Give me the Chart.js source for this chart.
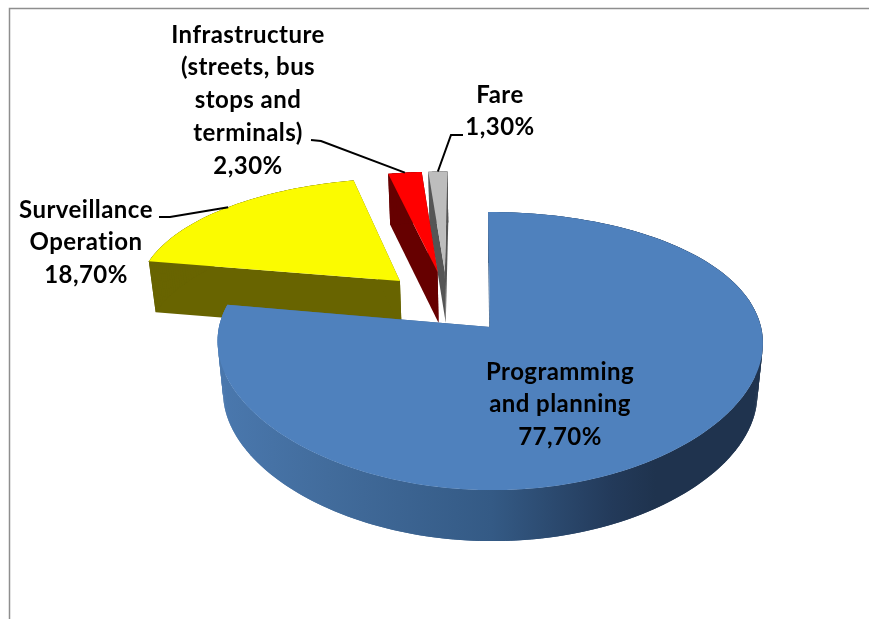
<!DOCTYPE html>
<html>
<head>
<meta charset="utf-8">
<title>Budget share</title>
<script src="https://cdn.jsdelivr.net/npm/chart.js@4"></script>
<style>
    html, body { margin: 0; padding: 0; background: #fff; overflow: hidden; }
    canvas { display: block; }
</style>
</head>
<body>
<canvas id="pieChart" width="869" height="619"></canvas>
<script>
const categories = ['Programming and planning', 'Surveillance Operation', 'Infrastructure (streets, bus stops and terminals)', 'Fare'];
const shares = [77.7, 18.7, 2.3, 1.3];
const labelLines = [
    ['Programming', 'and planning'],
    ['Surveillance', 'Operation'],
    ['Infrastructure', '(streets, bus', 'stops and', 'terminals)'],
    ['Fare']
];

const topColors = ['#4f81bd', '#fbfb00', '#ff0000', '#bdbdbd'];
const wallColors = [null, '#686400', '#660000', '#555555'];
const drawOrder = [1, 3, 2, 0];

// view of the tilted pie plane
const view = { x: 490, y: 327, rx: 271, ry: 134.9, shear: 2, tiltX: 0.11, tiltY: 0.173, depth: 51, shrink: 0.98 };

// label centre x, first line y, and where each leader leaves the label
const labelBoxes = [
    { x: 560, y: 372, leader: null },
    { x: 86, y: 210, leader: [[159, 217], [170, 217]] },
    { x: 248, y: 35, leader: [[311, 140], [321, 141]] },
    { x: 500, y: 95, leader: [[463, 135], [451, 135]] }
];
const lineHeight = 32.7;

function project(el, angle, radius, low) {
    const first = el.$context.chart.getDatasetMeta(0).data[0];
    const r = el.outerRadius;
    const firstMid = (first.startAngle + first.endAngle) / 2;
    const mid = (el.startAngle + el.endAngle) / 2;
    // slices are pulled out along their middle angle, first slice stays at the view origin
    const nx = radius * Math.cos(angle) + (el.options.offset * Math.cos(mid) - first.options.offset * Math.cos(firstMid)) / r;
    const ny = radius * Math.sin(angle) + (el.options.offset * Math.sin(mid) - first.options.offset * Math.sin(firstMid)) / r;
    let x = view.x + (view.rx * nx + view.shear * ny) / (1 - view.tiltX * ny);
    let y = view.y + view.ry * ny / (1 - view.tiltY * ny);
    if (low) {
        x = view.x + (x - view.x) * view.shrink;
        y += view.depth;
    }
    return [x, y];
}

function rimPoints(el, low) {
    const pts = [];
    const steps = Math.ceil((el.endAngle - el.startAngle) / 0.0175);
    for (let i = 0; i <= steps; i++) {
        pts.push(project(el, el.startAngle + (el.endAngle - el.startAngle) * i / steps, 1, low));
    }
    return pts;
}

function fillPoly(ctx, pts, color) {
    ctx.beginPath();
    pts.forEach((p, i) => i ? ctx.lineTo(p[0], p[1]) : ctx.moveTo(p[0], p[1]));
    ctx.closePath();
    ctx.fillStyle = color;
    ctx.fill();
}

function drawSlice(ctx, el, index) {
    let wall = wallColors[index];
    if (!wall) {
        wall = ctx.createLinearGradient(218, 0, 765, 0);
        wall.addColorStop(0, '#4a78ae');
        wall.addColorStop(0.2, '#426c9c');
        wall.addColorStop(0.5, '#345a85');
        wall.addColorStop(0.72, '#233a5a');
        wall.addColorStop(0.8, '#1f334e');
        wall.addColorStop(1, '#1f334e');
    }
    const upper = rimPoints(el, false);
    const lower = rimPoints(el, true);
    const apexUp = project(el, 0, 0, false);
    const apexLow = project(el, 0, 0, true);

    fillPoly(ctx, [apexUp, upper[0], lower[0], apexLow], wall);
    fillPoly(ctx, [apexUp, upper[upper.length - 1], lower[lower.length - 1], apexLow], wall);
    // neighbouring wall pieces overlap by one step so no seams show
    for (let i = 0; i < upper.length - 1; i++) {
        const j = Math.min(i + 2, upper.length - 1);
        fillPoly(ctx, [upper[i], upper[j], lower[j], lower[i]], wall);
    }
    fillPoly(ctx, [apexUp].concat(upper), topColors[index]);
}

const tiltedPie = {
    id: 'tiltedPie',
    beforeDraw(chart) {
        // chart frame, top and left edges
        const ctx = chart.ctx;
        ctx.save();
        ctx.strokeStyle = '#8e8e8e';
        ctx.lineWidth = 1.5;
        ctx.beginPath();
        ctx.moveTo(9.5, 619);
        ctx.lineTo(9.5, 8.5);
        ctx.lineTo(869, 8.5);
        ctx.stroke();
        ctx.restore();
    },
    beforeDatasetDraw(chart) {
        const ctx = chart.ctx;
        const arcs = chart.getDatasetMeta(0).data;
        ctx.save();
        drawOrder.forEach(i => drawSlice(ctx, arcs[i], i));
        ctx.restore();
        return false;
    },
    afterDatasetsDraw(chart) {
        const ctx = chart.ctx;
        const arcs = chart.getDatasetMeta(0).data;
        ctx.save();
        ctx.font = 'bold 24px Lato';
        ctx.letterSpacing = '0.45px';
        ctx.textAlign = 'center';
        ctx.textBaseline = 'middle';
        ctx.fillStyle = '#000';
        ctx.strokeStyle = '#000';
        ctx.lineWidth = 2;
        labelBoxes.forEach((box, i) => {
            const value = shares[i].toFixed(2).replace('.', ',') + '%';
            labelLines[i].concat(value).forEach((text, n) => {
                ctx.fillText(text, box.x, box.y + n * lineHeight);
            });
            if (box.leader) {
                const el = arcs[i];
                const end = project(el, (el.startAngle + el.endAngle) / 2, 1, false);
                ctx.beginPath();
                box.leader.concat([end]).forEach((p, n) => n ? ctx.lineTo(p[0], p[1]) : ctx.moveTo(p[0], p[1]));
                ctx.stroke();
            }
        });
        ctx.restore();
    }
};

new Chart(document.getElementById('pieChart').getContext('2d'), {
    type: 'pie',
    data: {
        labels: categories,
        datasets: [{
            data: shares,
            backgroundColor: topColors,
            borderWidth: 0,
            offset: 68.8
        }]
    },
    options: {
        responsive: false,
        animation: false,
        plugins: {
            legend: { display: false },
            tooltip: { enabled: false }
        }
    },
    plugins: [tiltedPie]
});
</script>
</body>
</html>
